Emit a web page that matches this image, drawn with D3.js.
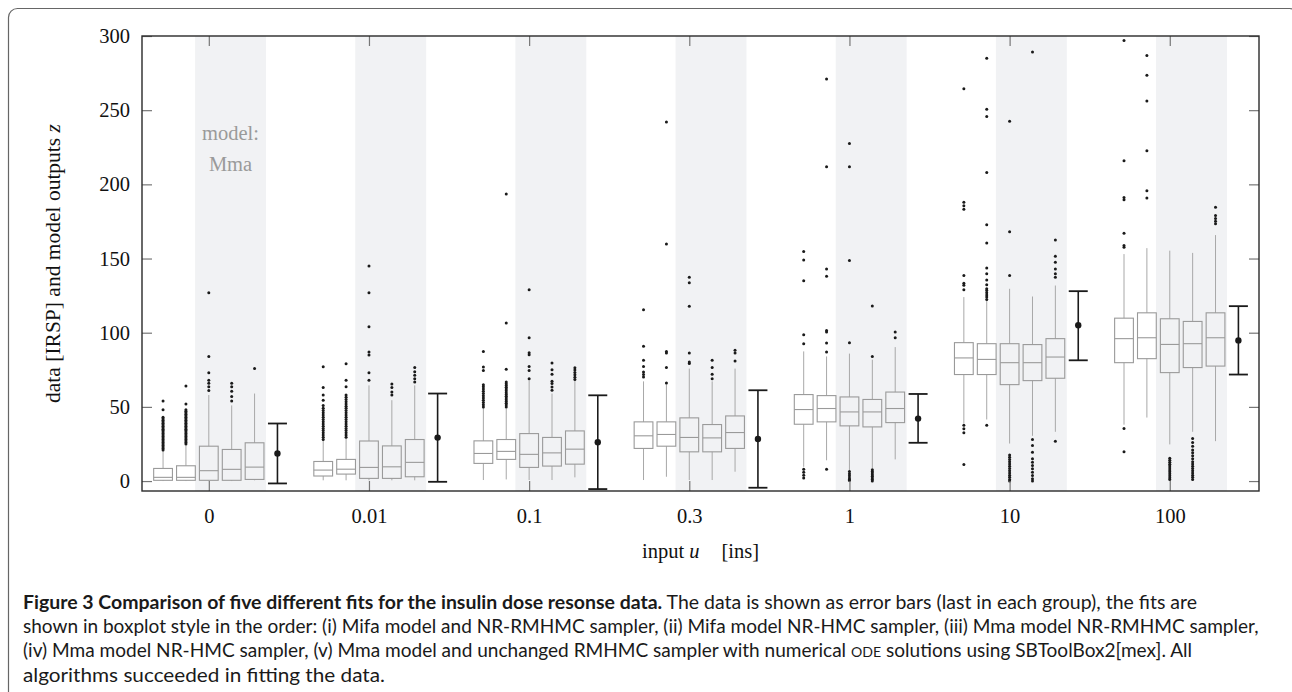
<!DOCTYPE html>
<html>
<head>
<meta charset="utf-8">
<script src="https://cdn.jsdelivr.net/npm/d3@7"></script>
<style>
  html, body { margin: 0; padding: 0; background: #fff; }
  svg { display: block; }
</style>
</head>
<body>
<svg id="chart" width="1292" height="692"></svg>
<script>
// ---------------- DATA ----------------
const doses = ["0", "0.01", "0.1", "0.3", "1", "10", "100"];
const fitNames = [
  "Mifa model, NR-RMHMC",
  "Mifa model, NR-HMC",
  "Mma model, NR-RMHMC",
  "Mma model, NR-HMC",
  "Mma model, RMHMC SBToolBox2[mex]"
];
const yTicks = [0, 50, 100, 150, 200, 250, 300];

// box stats per dose: [lower whisker, q1, median, q3, upper whisker]
const mifaNRRMHMC = [
  [0, 0.5, 2.5, 8.5, 20.8], [0.5, 3.4, 7.4, 13.2, 27.6], [0.7, 11.9, 18.6, 27.1, 50],
  [0.7, 22, 30.5, 39.9, 67.2], [9.6, 38.3, 48.2, 58.3, 87.4], [38.8, 71.8, 83, 93.3, 124],
  [38, 79.8, 96, 109.8, 153]
];
const mifaNRHMC = [
  [0, 0.5, 2.5, 10.3, 24], [0.5, 4.7, 8, 14.6, 28.7], [1.1, 14.6, 20, 28, 48.9],
  [2.9, 23.5, 31.4, 39.9, 65.2], [14, 39.9, 48.9, 57.6, 84], [41.5, 71.8, 82, 92.6, 121.7],
  [42.8, 82.5, 96.6, 113.4, 157]
];
const mmaNRRMHMC = [
  [0, 0.5, 7, 23.5, 58], [0.5, 1.8, 9.2, 27, 64.5], [0.7, 9.2, 18, 32, 67.9],
  [0.7, 19.7, 29.4, 42.6, 75.8], [7.4, 37.2, 46.6, 56.7, 85.9], [25.3, 65, 79.8, 92.6, 129.6],
  [24.7, 73.1, 92.1, 109.4, 155.3]
];
const mmaNRHMC = [
  [0, 0.5, 7.9, 21.3, 51], [0.5, 1.8, 9.6, 23.7, 54.5], [0.7, 10.1, 19, 29.4, 59],
  [0.7, 19.7, 29.1, 38.1, 67.2], [8.5, 36.5, 46.6, 55, 81.8], [30.5, 67.7, 79.8, 92, 124.4],
  [33.2, 76.5, 92.6, 107.6, 153.8]
];
const mmaRMHMC = [
  [0.5, 1.1, 9.4, 25.8, 59], [0.5, 2.9, 12.6, 28, 64.5], [2.5, 11.4, 21.5, 33.8, 67.9],
  [6.3, 22, 32.7, 43.9, 75.8], [14.6, 39.4, 48.9, 60, 90.3], [33.2, 69.3, 83.6, 96, 131.8],
  [26.9, 77.5, 96.6, 113.4, 165.8]
];

// outliers per dose
const mifaNRRMHMCOut = [
  [21,22,23,24,25,26,27,28,29,30,31,32,33,34,35,36,37,38,39,40,41,42,43,48,54],
  [28,29.5,31,32.5,34,35.5,37,38.5,40,41.5,43,44.5,46,47.5,49,51,54.5,58,63,77],
  [50,51.5,53,54.5,56,57.5,59,60.5,62,63.5,65,74.6,76.9,87.4],
  [70.1,71.8,73.5,77.3,81.4,90.8,115.5],
  [92.6,98.6,135,149,154.7,8,6,4,2],
  [129,132,133.4,138.5,183.3,185.6,188,264.5,37.6,35.3,32.5,11.2],
  [157.6,158.7,167,189.6,191.2,215.9,297,35.5,19.7]
];
const mifaNRHMCOut = [
  [25,26,27,28,29,30,31,32,33,34,35,36,37,38,39,40,41,42,43,44,45,46,47,48,52,64],
  [29.5,31,32.5,34,35.5,37,38.5,40,41.5,43,44.5,46,47.5,49,50.5,52,53.5,55,56.5,58,63.5,68,79],
  [50,51.2,52.4,53.6,54.8,56,57.2,58.4,59.6,60.8,62,63.2,64.4,65.6,66.8,75.3,106.5,193.5],
  [66.1,76.5,86.3,87.4,159.8,242.1],
  [87,93,100.4,101.5,138,143,211.8,271,8],
  [122.4,124,125.5,127,128.5,129.6,132.3,135.6,139.7,143.7,160.5,172.8,208,245.7,250.6,285,37.6],
  [190.8,195.7,222.6,256.2,273.5,286.9]
];
const mmaNRRMHMCOut = [
  [61,63.5,66,68,73,84,127],
  [68,73,85,87,104,127,145],
  [69,74.6,77.3,85.2,86.5,96.6,128.9],
  [79.2,80.2,86.3,117.9,133.6,137.4],
  [93.3,148.6,211.8,227.5,6.5,5,3.5,2,1,0.3],
  [138.5,168,242.6,17.5,16,14.5,13,11.5,10,8.5,7,5.5,4,2.5,1,0],
  [15.3,14,12.7,11.4,10.1,8.8,7.5,6.2,4.9,3.6,2.3,1]
];
const mmaNRHMCOut = [
  [54,57,60.5,63.5,66],
  [58,60,63,65.5],
  [61.2,63.4,65.7,67.2,72,75.1,79.6],
  [69,72,76.5,81.4],
  [84,118,7.6,6.5,5.4,4.3,3.2,2.1,1,0],
  [289.2,28,24,19.5,15,12.7,10.5,8.3,6,3.8,1.6,0],
  [28.7,26,23.5,21,19,17,15,13,11.5,10,8.5,7,5.5,4,2.5,1]
];
const mmaRMHMCOut = [
  [75.8],
  [66.8,69,71.4,73.6,76.5],
  [68.4,70,71.6,73.2,74.8,76.4],
  [80.9,86.3,88.1],
  [96.6,100.4],
  [137.4,139.7,143,147.5,151.5,162.5,26.9],
  [173.5,175.2,176.9,179,184.5]
];

// measured data (error bars): mean, lower, upper
const dataMean = [18.6, 29.3, 26.2, 28.4, 42.1, 105, 94.8];
const dataLow  = [-1.6, -0.5, -5.4, -4.5, 25.8, 81.4, 71.8];
const dataHigh = [38.8, 59, 57.8, 61.2, 58.7, 128, 117.9];

// ---------------- DRAWING ----------------
const fitStats = [mifaNRRMHMC, mifaNRHMC, mmaNRRMHMC, mmaNRHMC, mmaRMHMC];
const fitOut = [mifaNRRMHMCOut, mifaNRHMCOut, mmaNRRMHMCOut, mmaNRHMCOut, mmaRMHMCOut];

const svg = d3.select("#chart");
const L = 142, R = 1259, T = 36, B = 491;
const slotsPerGroup = 7;
const x = d3.scaleLinear().domain([-0.92, 47.9]).range([L, R]);
const y = d3.scaleLinear().domain([-6.7, 300]).range([B, T]);
const slot = (g, j) => g * slotsPerGroup + j;
const slotW = x(1) - x(0);
const boxW = slotW * 0.82;

// outer figure frame
svg.append("rect")
  .attr("x", 8.5).attr("y", 8.5).attr("width", 1290).attr("height", 800)
  .attr("rx", 9).attr("fill", "none").attr("stroke", "#666").attr("stroke-width", 1.2);

// shaded model bands (Mma model)
svg.append("g").selectAll("rect").data(doses).join("rect")
  .attr("x", (d, i) => x(slot(i, 2) - 0.6))
  .attr("width", (d, i) => x(slot(i, 4) + 0.5) - x(slot(i, 2) - 0.6))
  .attr("y", T).attr("height", B - T)
  .attr("fill", "#f1f2f4");

// "model: Mma" annotation
const annX = (x(slot(0, 2) - 0.6) + x(slot(0, 4) + 0.5)) / 2;
const ann = svg.append("text")
  .attr("text-anchor", "middle")
  .attr("font-family", "'Liberation Serif', 'DejaVu Serif', serif")
  .attr("font-size", 20.5).attr("fill", "#9a9a9a");
ann.append("tspan").attr("x", annX).attr("y", 140).text("model:");
ann.append("tspan").attr("x", annX).attr("y", 171).text("Mma");

// boxplots
const boxes = [];
fitStats.forEach((arr, f) => arr.forEach((s, g) => boxes.push({ f, g, s, out: fitOut[f][g] })));

const bg = svg.append("g");
const bx = b => x(slot(b.g, b.f));
bg.selectAll("line.wlo").data(boxes).join("line")
  .attr("x1", bx).attr("x2", bx)
  .attr("y1", b => y(b.s[0])).attr("y2", b => y(b.s[1]))
  .attr("stroke", "#a8a8a8").attr("stroke-width", 1);
bg.selectAll("line.whi").data(boxes).join("line")
  .attr("x1", bx).attr("x2", bx)
  .attr("y1", b => y(b.s[3])).attr("y2", b => y(b.s[4]))
  .attr("stroke", "#a8a8a8").attr("stroke-width", 1);
bg.selectAll("rect.box").data(boxes).join("rect")
  .attr("x", b => bx(b) - boxW / 2).attr("width", boxW)
  .attr("y", b => y(b.s[3])).attr("height", b => y(b.s[1]) - y(b.s[3]))
  .attr("fill", "none").attr("stroke", "#9a9a9a").attr("stroke-width", 1.1);
bg.selectAll("line.med").data(boxes).join("line")
  .attr("x1", b => bx(b) - boxW / 2).attr("x2", b => bx(b) + boxW / 2)
  .attr("y1", b => y(b.s[2])).attr("y2", b => y(b.s[2]))
  .attr("stroke", "#9a9a9a").attr("stroke-width", 1.1);
const outPts = [];
boxes.forEach(b => b.out.forEach(v => outPts.push({ b, v })));
bg.selectAll("circle.out").data(outPts).join("circle")
  .attr("cx", p => bx(p.b)).attr("cy", p => y(p.v)).attr("r", 1.5)
  .attr("fill", "#1a1a1a");

// data error bars
const eg = svg.append("g");
const ex = (d, i) => x(slot(i, 5));
const capW = 19;
eg.selectAll("line.ev").data(dataMean).join("line")
  .attr("x1", ex).attr("x2", ex)
  .attr("y1", (d, i) => y(dataLow[i])).attr("y2", (d, i) => y(dataHigh[i]))
  .attr("stroke", "#1a1a1a").attr("stroke-width", 1.6);
eg.selectAll("line.ct").data(dataMean).join("line")
  .attr("x1", (d, i) => ex(d, i) - capW / 2).attr("x2", (d, i) => ex(d, i) + capW / 2)
  .attr("y1", (d, i) => y(dataHigh[i])).attr("y2", (d, i) => y(dataHigh[i]))
  .attr("stroke", "#1a1a1a").attr("stroke-width", 1.8);
eg.selectAll("line.cb").data(dataMean).join("line")
  .attr("x1", (d, i) => ex(d, i) - capW / 2).attr("x2", (d, i) => ex(d, i) + capW / 2)
  .attr("y1", (d, i) => y(dataLow[i])).attr("y2", (d, i) => y(dataLow[i]))
  .attr("stroke", "#1a1a1a").attr("stroke-width", 1.8);
eg.selectAll("circle").data(dataMean).join("circle")
  .attr("cx", ex).attr("cy", d => y(d)).attr("r", 3.2).attr("fill", "#1a1a1a");

// axes
const serif = "'Liberation Serif', 'DejaVu Serif', serif";
const xTickPos = doses.map((d, i) => slot(i, 2));

const yL = svg.append("g").attr("transform", `translate(${L},0)`)
  .call(d3.axisLeft(y).tickValues(yTicks).tickSize(-10).tickPadding(12).tickFormat(d3.format("d")));
const yR = svg.append("g").attr("transform", `translate(${R},0)`)
  .call(d3.axisRight(y).tickValues(yTicks).tickSize(-10).tickFormat(""));
const xB = svg.append("g").attr("transform", `translate(0,${B})`)
  .call(d3.axisBottom(x).tickValues(xTickPos).tickSize(-10).tickPadding(17).tickFormat((d, i) => doses[i]));
const xT = svg.append("g").attr("transform", `translate(0,${T})`)
  .call(d3.axisTop(x).tickValues(xTickPos).tickSize(-10).tickFormat(""));
[yL, yR, xB, xT].forEach(a => {
  a.select(".domain").remove();
  a.selectAll(".tick line").attr("stroke", "#777").attr("stroke-width", 1.2);
  a.selectAll("text").attr("font-family", serif).attr("font-size", 20.5).attr("fill", "#111");
});

// plot frame
svg.append("rect").attr("x", L).attr("y", T).attr("width", R - L).attr("height", B - T)
  .attr("fill", "none").attr("stroke", "#2a2a2a").attr("stroke-width", 1.4);

// axis titles
const xt = svg.append("text").attr("x", (L + R) / 2).attr("y", 558)
  .attr("text-anchor", "middle").attr("font-family", serif).attr("font-size", 20.5).attr("fill", "#111");
xt.append("tspan").text("input ");
xt.append("tspan").attr("font-style", "italic").text("u");
xt.append("tspan").attr("dx", 22).text("[ins]");

const yt = svg.append("text")
  .attr("transform", `translate(60,${(T + B) / 2}) rotate(-90)`)
  .attr("text-anchor", "middle").attr("font-family", serif).attr("font-size", 21.5).attr("fill", "#111");
yt.append("tspan").text("data [IRSP] and model outputs ");
yt.append("tspan").attr("font-style", "italic").text("z");

// caption
const sans = "Lato, 'Open Sans', 'Noto Sans', sans-serif";
const capLines = [
  [{ t: "Figure 3 Comparison of five different fits for the insulin dose resonse data.", b: true },
   { t: " The data is shown as error bars (last in each group), the fits are" }],
  [{ t: "shown in boxplot style in the order: (i) Mifa model and NR-RMHMC sampler, (ii) Mifa model NR-HMC sampler, (iii) Mma model NR-RMHMC sampler," }],
  [{ t: "(iv) Mma model NR-HMC sampler, (v) Mma model and unchanged RMHMC sampler with numerical " },
   { t: "ODE", sc: true },
   { t: " solutions using SBToolBox2[mex]. All" }],
  [{ t: "algorithms succeeded in fitting the data." }]
];
const capX = 23;
const capWidths = [1174, 1236, 1169, 362];
const capG = svg.append("g").attr("font-family", sans).attr("font-size", 17.5).attr("fill", "#1a1a1a");
const capTexts = capLines.map((parts, li) => {
  const tx = capG.append("text").attr("x", capX).attr("y", 609 + li * 24.2);
  parts.forEach(p => {
    const ts = tx.append("tspan").text(p.t);
    if (p.b) ts.attr("font-weight", "bold");
    if (p.sc) ts.attr("class", "sc");
  });
  return tx;
});
// size the caption font so the full-width line spans the figure width
const natW = capTexts[1].node().getComputedTextLength();
const fs = 17.5 * capWidths[1] / natW;
capG.attr("font-size", fs);
capG.selectAll("tspan.sc").attr("font-size", fs * 0.74);
capTexts.forEach((tx, i) => {
  if (i !== 1) tx.attr("textLength", capWidths[i]).attr("lengthAdjust", "spacingAndGlyphs");
});
</script>
</body>
</html>
